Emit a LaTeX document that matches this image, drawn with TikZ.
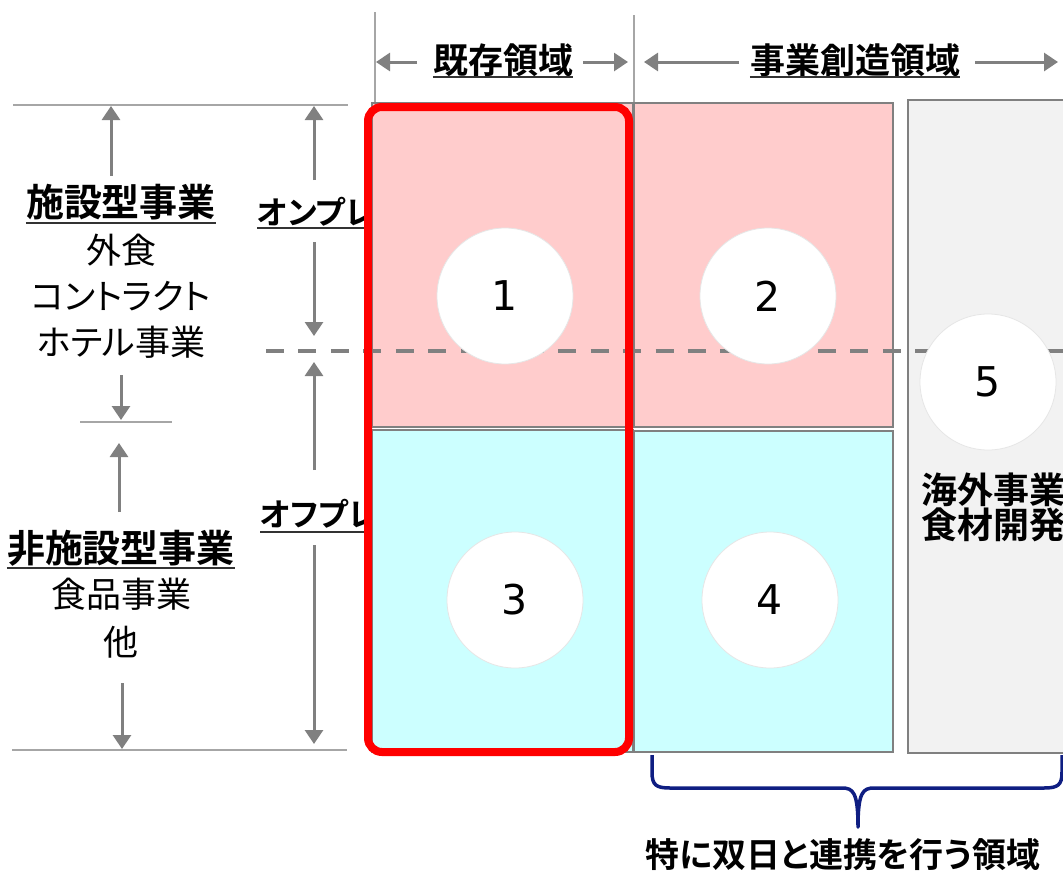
\documentclass[tikz,border=0pt]{standalone}
\usepackage{fontspec}
\setmainfont{Noto Sans CJK JP}[BoldFont={Noto Sans CJK JP Bold},RawFeature=+palt]
\newfontfamily\digitfont{DejaVu Sans}
\usetikzlibrary{arrows.meta}
\definecolor{pinkc}{HTML}{FFCCCC}
\definecolor{cyanc}{HTML}{CCFFFF}
\definecolor{greyc}{HTML}{F2F2F2}
\definecolor{bordergray}{HTML}{808080}
\definecolor{arrowgray}{HTML}{808080}
\definecolor{guidegray}{HTML}{A6A6A6}
\definecolor{circgray}{HTML}{E6E6E6}
\definecolor{navyc}{HTML}{0F1E82}
\definecolor{redc}{HTML}{FF0000}
\tikzset{
  dimarrow/.style={draw=arrowgray, line width=3pt, -{Triangle[width=18pt,length=14pt]}},
  guide/.style={draw=guidegray, line width=1.8pt},
  ul/.style={draw=black!80, line width=1.8pt},
  cell/.style={draw=bordergray, line width=2.5pt},
  num/.style={circle, fill=white, draw=circgray, line width=0.8pt, minimum size=136pt, inner sep=0pt, font=\digitfont\fontsize{41}{41}\selectfont},
  lab/.style={inner sep=0pt, align=center},
  boldlab/.style={lab, font=\bfseries\fontsize{35}{35}\selectfont},
}
\begin{document}
\begin{tikzpicture}[x=1pt,y=-1pt]
\useasboundingbox (0,0) rectangle (1063,871);
% guide lines
\draw[guide] (375,12) -- (375,103);
\draw[guide] (634,15) -- (634,103);
\draw[guide] (13,105) -- (348,105);
\draw[guide] (80,422) -- (172,422);
\draw[guide] (12,750) -- (347,750);
% header texts
\node[boldlab] (t1) at (503,60) {既存領域};
\node[boldlab] (t2) at (855,60) {事業創造領域};
\draw[ul] (t1.west |- 0,77) -- (t1.east |- 0,77);
\draw[ul] (t2.west |- 0,77) -- (t2.east |- 0,77);
\coordinate (a1s) at (417,62); \coordinate (a1e) at (376,62);
\coordinate (a2s) at (583,62); \coordinate (a2e) at (628,62);
\coordinate (a3s) at (739,62); \coordinate (a3e) at (644,62);
\coordinate (a4s) at (975,62); \coordinate (a4e) at (1058,62);
\draw[dimarrow] (a1s) -- (a1e);
\draw[dimarrow] (a2s) -- (a2e);
\draw[dimarrow] (a3s) -- (a3e);
\draw[dimarrow] (a4s) -- (a4e);
% left labels
\node[lab, font=\bfseries\fontsize{38}{38}\selectfont] (h1) at (121,202) {施設型事業};
\draw[ul] (h1.west |- 0,223) -- (h1.east |- 0,223);
\node[lab, font=\fontsize{35}{46}\selectfont] (s1) at (121,296) {外食\\コントラクト\\ホテル事業};
\node[lab, font=\bfseries\fontsize{38}{38}\selectfont] (h2) at (121,548) {非施設型事業};
\draw[ul] (h2.west |- 0,568) -- (h2.east |- 0,568);
\node[lab, font=\fontsize{35}{48}\selectfont] (s2) at (121,618) {食品事業\\他};
% left arrows
\coordinate (l1s) at (111,176); \coordinate (l1e) at (111,106);
\coordinate (l2s) at (121,375); \coordinate (l2e) at (121,420);
\coordinate (l3s) at (119,512); \coordinate (l3e) at (119,443);
\coordinate (l4s) at (122,683); \coordinate (l4e) at (122,749);
\draw[dimarrow] (l1s) -- (l1e);
\draw[dimarrow] (l2s) -- (l2e);
\draw[dimarrow] (l3s) -- (l3e);
\draw[dimarrow] (l4s) -- (l4e);
% second column labels and arrows
\node[lab, anchor=west, font=\bfseries\fontsize{32}{32}\selectfont] (op) at (257,212) {オンプレ};
\draw[ul] (257,228) -- (364,228);
\node[lab, anchor=west, font=\bfseries\fontsize{32}{32}\selectfont] (of) at (260,514) {オフプレ};
\draw[ul] (260,532) -- (364,532);
\coordinate (m1s) at (314,180); \coordinate (m1e) at (314,106);
\coordinate (m2s) at (314,242); \coordinate (m2e) at (314,336);
\coordinate (m3s) at (314,470); \coordinate (m3e) at (314,362);
\coordinate (m4s) at (314,545); \coordinate (m4e) at (314,744);
\draw[dimarrow] (m1s) -- (m1e);
\draw[dimarrow] (m2s) -- (m2e);
\draw[dimarrow] (m3s) -- (m3e);
\draw[dimarrow] (m4s) -- (m4e);
% cells
\filldraw[cell, fill=pinkc] (372,103) rectangle (633,427);
\filldraw[cell, fill=cyanc] (372,430) rectangle (633,752);
\filldraw[cell, fill=pinkc] (634,103) rectangle (893,427);
\filldraw[cell, fill=cyanc] (634,431) rectangle (893,752);
\filldraw[cell, fill=greyc] (908,100) rectangle (1080,753);
% dashed divider
\draw[draw=arrowgray, line width=4pt, dash pattern=on 18pt off 14.46pt] (266,351) -- (1063,351);
% circles
\node[num] (c1) at (505,296) {1};
\node[num] (c2) at (768,296) {2};
\node[num] (c3) at (515,600) {3};
\node[num] (c4) at (770,600) {4};
\node[num] (c5) at (988,382) {5};
\node[lab, anchor=west, align=left, font=\bfseries\fontsize{36}{35}\selectfont] (r5) at (921,507) {海外事業\\食材開発};
% red frame
\draw[draw=redc, line width=8pt, rounded corners=14pt] (368,107) rectangle (629,752);
% brace
\coordinate (bL) at (652,755);
\coordinate (bR) at (1062,755);
\coordinate (bT) at (858,827);
\draw[draw=navyc, line width=3.5pt, line join=round]
  (bL) -- (652,772) .. controls (652,785) and (656,788) .. (670,788) -- (842,788)
  .. controls (853,788) and (858,792) .. (bT)
  .. controls (858,792) and (863,788) .. (874,788) -- (1044,788)
  .. controls (1058,788) and (1062,785) .. (1062,772) -- (bR);
\node[boldlab, font=\bfseries\fontsize{34}{34}\selectfont] (bt) at (843,855) {特に双日と連携を行う領域};
\end{tikzpicture}
\end{document}
